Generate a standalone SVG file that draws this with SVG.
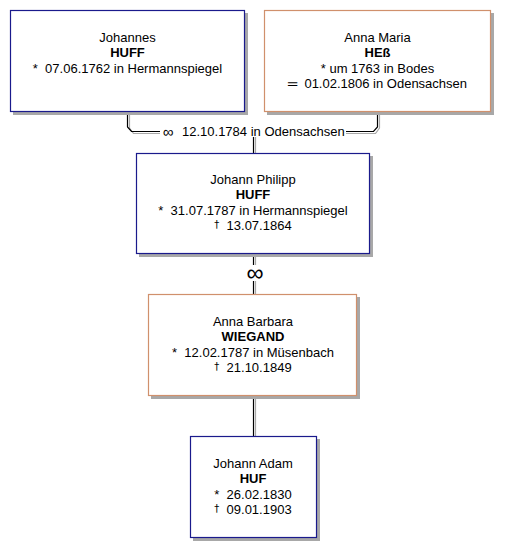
<svg xmlns="http://www.w3.org/2000/svg" width="510" height="558" viewBox="0 0 510 558">
<style>
text{font-family:"Liberation Sans",Arial,sans-serif;font-size:13px;fill:#000;text-anchor:middle}
.b{font-weight:bold}
.d{font-family:"DejaVu Sans",sans-serif;font-size:10px;fill:#000}
.m{stroke:#1a1a8c;stroke-width:1.2;fill:#fff}
.f{stroke:#d0906c;stroke-width:1.2;fill:#fff}
.sh{fill:#a8a8a8}
.ln{stroke:#000;stroke-width:1.2;fill:none}
.lg{stroke:#a8a8a8;stroke-width:1.2;fill:none}
</style>
<rect width="510" height="558" fill="#fff"/>
<g id="connectors">
<path class="lg" d="M129.5,112 V128 L133.5,133.5 H160"/>
<path class="ln" d="M127.5,112 V127 L131.5,131.5 H160"/>
<path class="lg" d="M379.5,112 V128 L375.5,133.5 H346"/>
<path class="ln" d="M377.5,112 V127 L373.5,131.5 H346"/>
<text x="168" y="137" style="font-size:15px">∞</text>
<text x="182" y="136" style="text-anchor:start">12.10.1784 in Odensachsen</text>
<line class="lg" x1="255.5" y1="137" x2="255.5" y2="153"/>
<line class="ln" x1="253.5" y1="137" x2="253.5" y2="153"/>
<line class="lg" x1="255.5" y1="254" x2="255.5" y2="265"/>
<line class="ln" x1="253.5" y1="254" x2="253.5" y2="265"/>
<text x="255" y="281" style="font-size:24px;font-weight:300">∞</text>
<line class="lg" x1="255.5" y1="281" x2="255.5" y2="294"/>
<line class="ln" x1="253.5" y1="281" x2="253.5" y2="294"/>
<line class="lg" x1="255.5" y1="396" x2="255.5" y2="436"/>
<line class="ln" x1="253.5" y1="396" x2="253.5" y2="436"/>
</g>
<g id="n1">
<rect class="sh" x="13" y="13" width="235" height="102"/>
<rect class="m" x="10.5" y="10.5" width="234" height="101"/>
<text x="127.5" y="42">Johannes</text>
<text x="127.5" y="57" class="b">HUFF</text>
<text x="127.5" y="73" xml:space="preserve">*  07.06.1762 in Hermannspiegel</text>
</g>
<g id="n2">
<rect class="sh" x="267" y="13" width="227" height="102"/>
<rect class="f" x="264.5" y="10.5" width="226" height="101"/>
<text x="377.5" y="42">Anna Maria</text>
<text x="377.5" y="57" class="b">HEß</text>
<text x="377.5" y="73">* um 1763 in Bodes</text>
<text x="377.5" y="88" xml:space="preserve">═  01.02.1806 in Odensachsen</text>
</g>
<g id="n3">
<rect class="sh" x="139" y="156" width="234" height="101"/>
<rect class="m" x="136.5" y="153.5" width="233" height="100"/>
<text x="253" y="184">Johann Philipp</text>
<text x="253" y="199" class="b">HUFF</text>
<text x="253" y="215" xml:space="preserve">*  31.07.1787 in Hermannspiegel</text>
<text x="253" y="230" xml:space="preserve"><tspan class="d" dy="-2">†</tspan><tspan dy="2">  13.07.1864</tspan></text>
</g>
<g id="n4">
<rect class="sh" x="151" y="297" width="209" height="102"/>
<rect class="f" x="148.5" y="294.5" width="208" height="101"/>
<text x="253" y="326">Anna Barbara</text>
<text x="253" y="341" class="b">WIEGAND</text>
<text x="253" y="357" xml:space="preserve">*  12.02.1787 in Müsenbach</text>
<text x="253" y="372" xml:space="preserve"><tspan class="d" dy="-2">†</tspan><tspan dy="2">  21.10.1849</tspan></text>
</g>
<g id="n5">
<rect class="sh" x="193" y="439" width="127" height="102"/>
<rect class="m" x="190.5" y="436.5" width="126" height="101"/>
<text x="253" y="468">Johann Adam</text>
<text x="253" y="483" class="b">HUF</text>
<text x="253" y="499" xml:space="preserve">*  26.02.1830</text>
<text x="253" y="514" xml:space="preserve"><tspan class="d" dy="-2">†</tspan><tspan dy="2">  09.01.1903</tspan></text>
</g>
</svg>
